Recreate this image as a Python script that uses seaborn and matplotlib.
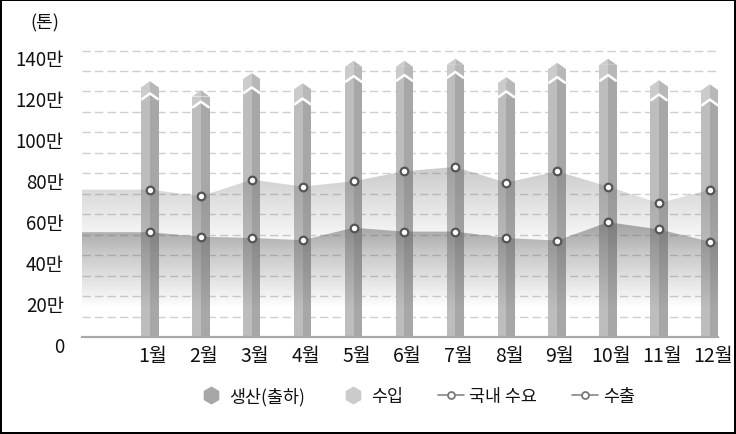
import numpy as np
import pandas as pd
import matplotlib
matplotlib.use("Agg")
import matplotlib.pyplot as plt
from matplotlib.patches import Polygon, Rectangle
from matplotlib.lines import Line2D
import matplotlib.transforms as mtransforms
import seaborn as sns

# ---------------- data (단위: 만 톤) ----------------
months = ["1월", "2월", "3월", "4월", "5월", "6월", "7월", "8월", "9월", "10월", "11월", "12월"]
production = [116, 112, 119, 113.5, 124.5, 125, 126.5, 117, 124, 125, 115.5, 113]   # 생산(출하)
imports = [6, 5.5, 7, 7.5, 7.5, 7, 6.5, 7, 7, 8, 7, 7.5]                               # 수입
domestic = [72.0, 68.8, 76.9, 73.5, 76.1, 81.0, 83.1, 75.4, 81.0, 73.5, 65.4, 72.0]   # 국내 수요
exports = [51.2, 49.0, 48.4, 47.3, 53.4, 51.5, 51.5, 48.4, 47.1, 56.1, 52.6, 46.6]    # 수출
y_ticks = [0, 20, 40, 60, 80, 100, 120, 140]
y_tick_labels = ["0", "20만", "40만", "60만", "80만", "100만", "120만", "140만"]
unit_label = "(톤)"
legend_labels = ["생산(출하)", "수입", "국내 수요", "수출"]

sns.set_theme(style="white")
plt.rcParams["font.family"] = ["Noto Sans CJK KR", "DejaVu Sans"]

df = pd.DataFrame({"month": months, "production": production, "imports": imports})
df["total"] = df["production"] + df["imports"]

fig = plt.figure(figsize=(7.36, 4.35), dpi=100)
ax = fig.add_axes([0.1114, 0.223, 0.8641, 0.668])

BAR_W = 0.34
CAP = 3.0
XL, XR = -1.336, 11.16
YMAX = 142

imp_light, imp_dark = "#cbcbcb", "#b8b8b8"
prod_light, prod_dark = "#bdbdbd", "#a7a7a7"

# total (수입 on top) bars
sns.barplot(data=df, x="month", y="total", color=imp_light, saturation=1,
            width=BAR_W, linewidth=0, ax=ax, zorder=2)
n0 = len(ax.patches)
total_patches = list(ax.patches[:n0])
sns.barplot(data=df, x="month", y="production", color=prod_light, saturation=1,
            width=BAR_W, linewidth=0, ax=ax, zorder=2)
prod_patches = list(ax.patches[n0:])

def shade(p, light, dark, white_line=False):
    x0, w, h = p.get_x(), p.get_width(), p.get_height()
    xc = x0 + w / 2
    ax.add_patch(Rectangle((xc, 0), w / 2, h, facecolor=dark, edgecolor="none", zorder=2.1))
    ax.add_patch(Polygon([(x0, h), (xc, h + CAP), (xc, h)], closed=True,
                         facecolor=light, edgecolor="none", zorder=2.1))
    ax.add_patch(Polygon([(xc, h), (xc, h + CAP), (x0 + w, h)], closed=True,
                         facecolor=dark, edgecolor="none", zorder=2.1))
    if white_line:
        ax.plot([x0, xc, x0 + w], [h, h + CAP, h], color="white", lw=1.8,
                zorder=2.2, solid_capstyle="butt")

for p in total_patches:
    shade(p, imp_light, imp_dark)
for p in prod_patches:
    p.set_zorder(2.05)
    shade(p, prod_light, prod_dark, white_line=True)
for p in prod_patches:
    x0, w, h = p.get_x(), p.get_width(), p.get_height()
    ax.add_patch(Rectangle((x0, 0), w / 2, h, facecolor=prod_light, edgecolor="none", zorder=2.15))
    ax.add_patch(Rectangle((x0 + w / 2, 0), w / 2, h, facecolor=prod_dark, edgecolor="none", zorder=2.15))

pos = np.arange(len(months))

def gradient_area(values, alpha_top, v_top, v_bot, gray, z):
    xs = np.concatenate([[XL], pos, [XR]])
    ys = np.concatenate([[values[0]], values, [values[-1]]])
    poly = ax.fill_between(xs, ys, 0, facecolor="none", edgecolor="none")
    path = poly.get_paths()[0]
    n = 300
    vs = np.linspace(0, YMAX, n)
    a = np.clip((vs - v_bot) / (v_top - v_bot), 0, 1) * alpha_top
    img = np.zeros((n, 2, 4))
    img[..., :3] = gray
    img[:, :, 3] = a[:, None]
    im = ax.imshow(img, extent=[XL, XR, 0, YMAX], origin="lower", aspect="auto",
                   zorder=z, interpolation="bilinear")
    im.set_clip_path(path, transform=ax.transData)

gradient_area(np.array(domestic), 0.36, 84, 42, 0.42, 3)
gradient_area(np.array(exports), 0.55, 57, 14, 0.38, 3.1)

sns.scatterplot(x=pos, y=domestic, ax=ax, s=30, color="white", edgecolor="#555555",
                linewidth=1.6, zorder=5, legend=False)
sns.scatterplot(x=pos, y=exports, ax=ax, s=30, color="white", edgecolor="#555555",
                linewidth=1.6, zorder=5, legend=False)

ax.set_xlim(XL, XR)
ax.set_ylim(0, YMAX)
ax.set_yticks(y_ticks)
ax.set_yticklabels(y_tick_labels)
ax.set_yticks(np.arange(10, 140, 20), minor=True)
ax.set_xticks(pos)
ax.set_xticklabels(months)
ax.set_xlabel("")
ax.set_ylabel("")
ax.grid(True, axis="y", which="both", color="#cfcfcf", linestyle=(0, (6, 3)), lw=1)
ax.set_axisbelow(True)
ax.tick_params(axis="y", which="both", length=0, pad=13, labelsize=13.5, labelcolor="#111111")
ax.tick_params(axis="x", length=0, pad=6, labelsize=14, labelcolor="#111111")
for lab in ax.get_yticklabels():
    lab.set_transform(lab.get_transform() + mtransforms.ScaledTranslation(0, -5 / 72, fig.dpi_scale_trans))
for lab in ax.get_xticklabels():
    lab.set_transform(lab.get_transform() + mtransforms.ScaledTranslation(2 / 72, 0, fig.dpi_scale_trans))
for s in ["left", "right", "top"]:
    ax.spines[s].set_visible(False)
ax.spines["bottom"].set_color("#a8a8a8")
ax.spines["bottom"].set_linewidth(1.6)
ax.spines["bottom"].set_zorder(6)

fig.text(45 / 736, 1 - 23 / 435, unit_label, ha="center", va="center", fontsize=13, color="#111111")

handles = [
    Line2D([], [], marker="h", linestyle="none", markersize=13, markerfacecolor=prod_dark,
           markeredgecolor="none"),
    Line2D([], [], marker="h", linestyle="none", markersize=13, markerfacecolor=imp_light,
           markeredgecolor="none"),
    Line2D([], [], color="#888888", lw=1.2, marker="o", markersize=5, markerfacecolor="white",
           markeredgecolor="#777777", markeredgewidth=1.3),
    Line2D([], [], color="#888888", lw=1.2, marker="o", markersize=5, markerfacecolor="white",
           markeredgecolor="#777777", markeredgewidth=1.3),
]
fig.legend(handles, legend_labels, loc="center", bbox_to_anchor=(0.566, 1 - 397 / 435), ncol=4,
           frameon=False, fontsize=12.5, handlelength=1.5, handletextpad=0.3, columnspacing=2.0,
           labelcolor="#111111")

fig.patch.set_edgecolor("black")
fig.patch.set_linewidth(1.5)
fig.savefig("out.png", dpi=100, facecolor="white", edgecolor="black")
